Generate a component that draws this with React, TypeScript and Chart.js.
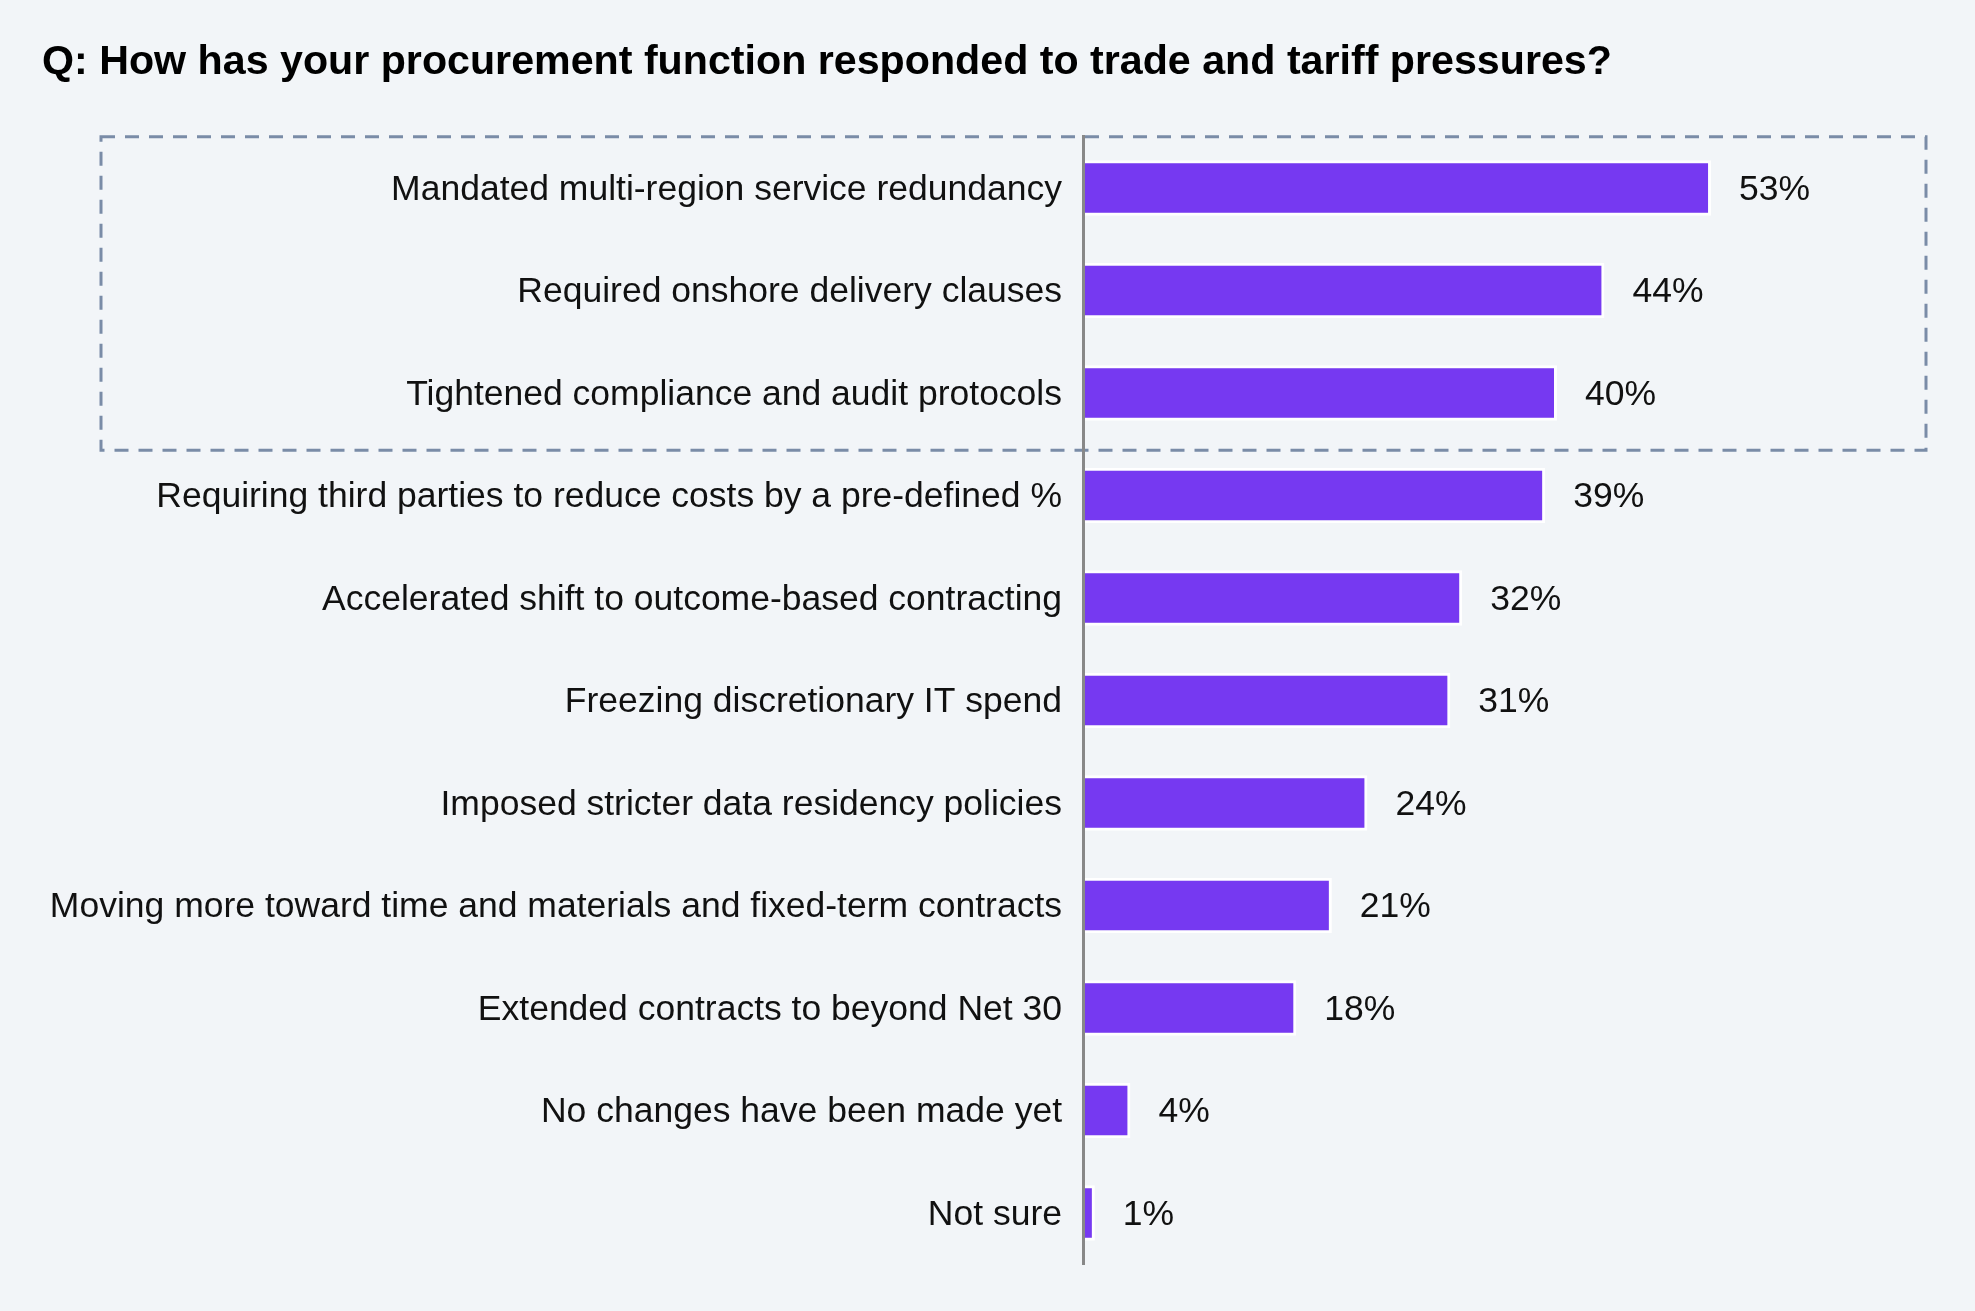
import * as React from 'react';
import { useEffect, useRef } from 'react';
import { Chart, registerables } from 'chart.js';

Chart.register(...registerables);

const TITLE = 'Q: How has your procurement function responded to trade and tariff pressures?';

const categories = [
  'Mandated multi-region service redundancy',
  'Required onshore delivery clauses',
  'Tightened compliance and audit protocols',
  'Requiring third parties to reduce costs by a pre-defined %',
  'Accelerated shift to outcome-based contracting',
  'Freezing discretionary IT spend',
  'Imposed stricter data residency policies',
  'Moving more toward time and materials and fixed-term contracts',
  'Extended contracts to beyond Net 30',
  'No changes have been made yet',
  'Not sure',
];

const values = [53, 44, 40, 39, 32, 31, 24, 21, 18, 4, 1];

// the first three rows sit inside the dashed highlight box
const highlightCount = 3;

const FONT = '"Liberation Sans", Arial, Helvetica, sans-serif';
const BAR_COLOR = '#7639F1';
const BG = '#F2F5F8';

// dashed box round the highlighted rows
const highlightBox = {
  id: 'highlightBox',
  afterDatasetsDraw(chart) {
    const { ctx, chartArea, scales } = chart;
    const y = scales.y;
    const top = chartArea.top;
    const bottom = (y.getPixelForValue(highlightCount - 1) + y.getPixelForValue(highlightCount)) / 2 + 6;
    ctx.save();
    ctx.strokeStyle = '#7A8CA7';
    ctx.lineWidth = 3;
    ctx.setLineDash([14, 10]);
    ctx.strokeRect(101, top, 1926 - 101, bottom - top);
    ctx.restore();
  },
};

// percentage labels to the right of each bar
const valueLabels = {
  id: 'valueLabels',
  afterDatasetsDraw(chart) {
    const { ctx } = chart;
    const meta = chart.getDatasetMeta(0);
    ctx.save();
    ctx.font = `35.5px ${FONT}`;
    ctx.fillStyle = '#111111';
    ctx.textAlign = 'left';
    ctx.textBaseline = 'middle';
    meta.data.forEach((bar, i) => {
      ctx.fillText(`${values[i]}%`, bar.x + 28, bar.y + 2);
    });
    ctx.restore();
  },
};

export default function App() {
  const canvasRef = useRef(null);

  useEffect(() => {
    document.body.style.margin = '0';
    document.body.style.background = BG;
    const ctx = canvasRef.current.getContext('2d');
    const chart = new Chart(ctx, {
      type: 'bar',
      data: {
        labels: categories,
        datasets: [
          {
            data: values,
            backgroundColor: BAR_COLOR,
            borderColor: '#FFFFFF',
            borderWidth: 3,
            borderSkipped: 'start',
            barPercentage: 0.54,
            categoryPercentage: 1,
          },
        ],
      },
      options: {
        indexAxis: 'y',
        animation: false,
        responsive: true,
        maintainAspectRatio: false,
        layout: {
          padding: { left: 42, right: 62.5, top: 0, bottom: 46.75 },
        },
        plugins: {
          legend: { display: false },
          tooltip: { enabled: false },
          title: {
            display: true,
            text: TITLE,
            align: 'start',
            color: '#000000',
            font: { family: FONT, size: 41.2, weight: 'bold', lineHeight: 1.2 },
            padding: { top: 37.6, bottom: 49.7 },
          },
        },
        scales: {
          x: {
            display: false,
            min: 0,
            max: 70,
          },
          y: {
            position: 'left',
            grid: { display: false, drawTicks: false },
            // z above 0 so the axis line is drawn over the bars' left edge
            border: { display: true, color: '#888888', width: 3, z: 1 },
            ticks: {
              color: '#111111',
              padding: 21,
              labelOffset: 2,
              autoSkip: false,
              font: { family: FONT, size: 35.5 },
            },
            afterFit: (scale) => {
              scale.width = 1083 - 42;
            },
          },
        },
      },
      plugins: [highlightBox, valueLabels],
    });
    return () => {
      chart.destroy();
    };
  }, []);

  return (
    <div style={{ width: 1975, height: 1311, background: BG, position: 'relative' }}>
      <canvas ref={canvasRef} />
    </div>
  );
}
